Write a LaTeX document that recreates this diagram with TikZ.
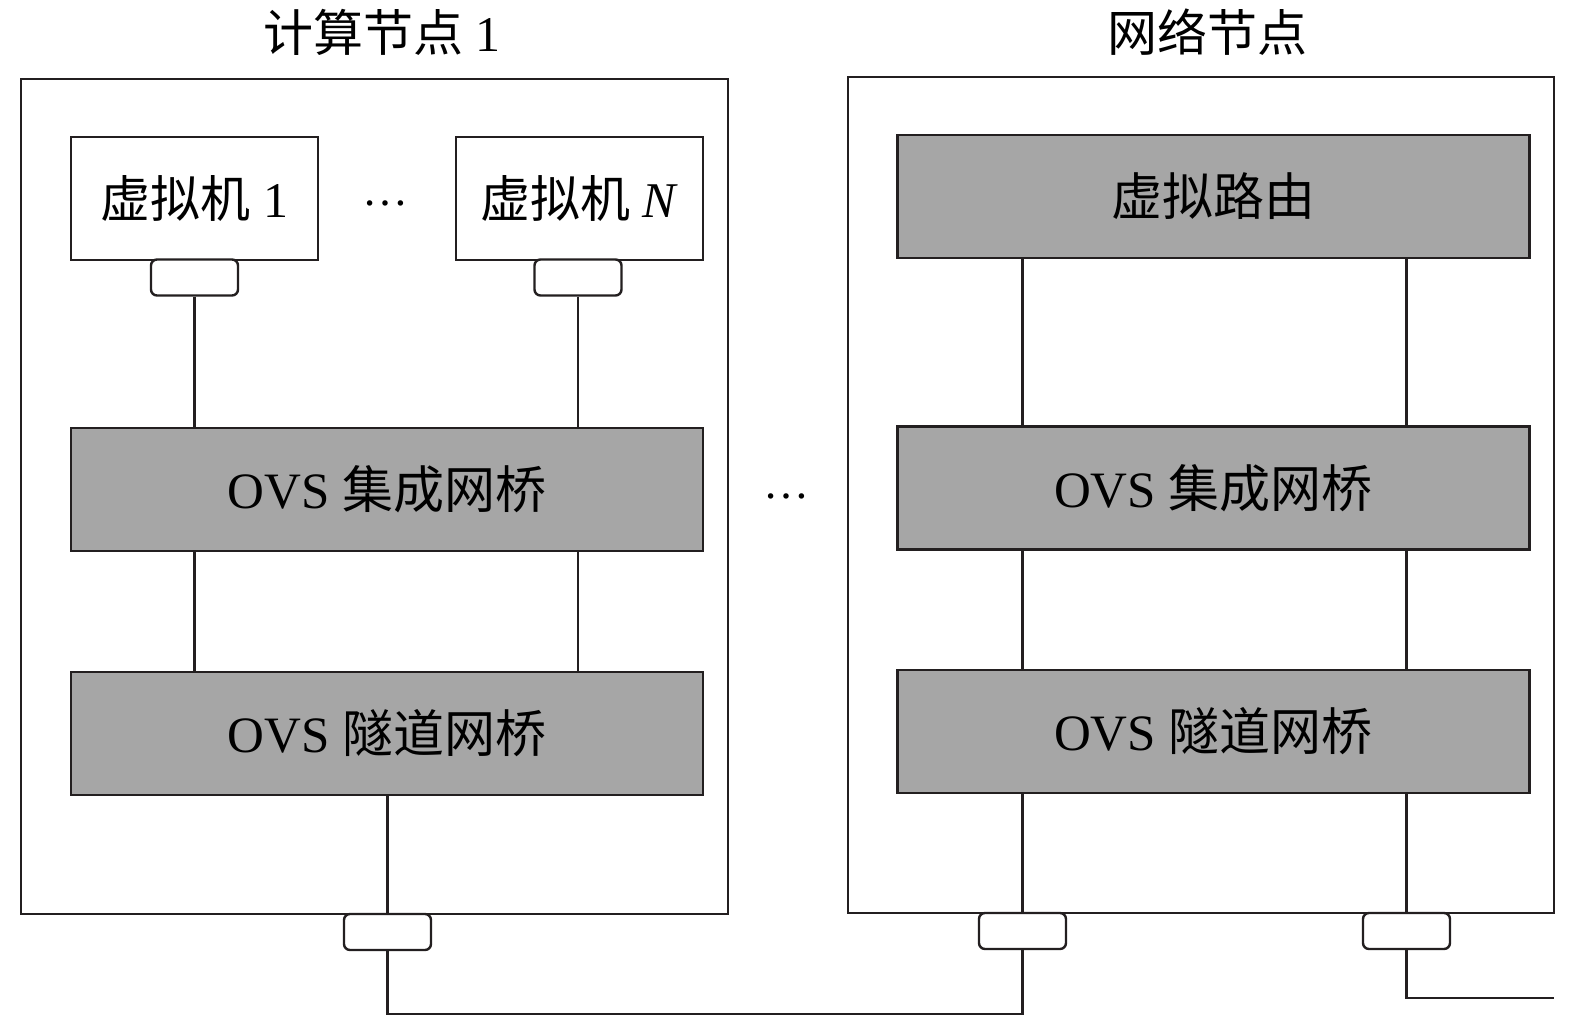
\documentclass[tikz,border=0pt]{standalone}
\usepackage{fontspec}
\setmainfont{Liberation Serif}
\newfontfamily\cjk{Noto Sans CJK SC}
\definecolor{boxgray}{HTML}{A6A6A6}
\definecolor{ink}{HTML}{231F20}
\begin{document}
\begin{tikzpicture}[x=1pt,y=-1pt,
  outerbox/.style={draw=ink,line width=2.6pt,fill=white},
  vmbox/.style={draw=ink,line width=2.6pt,fill=white,inner sep=0pt,minimum width=247pt,minimum height=123pt,font=\fontsize{50}{56}\selectfont},
  bridge/.style={draw=ink,line width=2.6pt,fill=boxgray,inner sep=0pt,minimum width=632pt,minimum height=123pt,font=\fontsize{51}{58}\selectfont},
  port/.style={draw=ink,line width=2.4pt,fill=white,rounded corners=6pt,inner sep=0pt,minimum width=87pt,minimum height=36pt},
  wire/.style={draw=ink,line width=2.2pt},
  title/.style={font=\fontsize{50}{56}\selectfont},
  dots/.style={font=\fontsize{46}{50}\selectfont,anchor=base,inner sep=0pt}]
\useasboundingbox (0,0) rectangle (1575,1022);
% outer boxes
\node[outerbox,inner sep=0pt,minimum width=707pt,minimum height=835pt] (left) at (374.5,496.5) {};
\node[outerbox,inner sep=0pt,minimum width=706pt,minimum height=836pt] (right) at (1201,495) {};
% titles
\node[title] (t1) at (382,32) {{\cjk 计算节点} 1};
\node[title] (t2) at (1207,32) {\cjk 网络节点};
% left node
\node[vmbox] (vm1) at (194.5,198.5) {{\cjk 虚拟机} 1};
\node[vmbox] (vmn) at (579.5,198.5) {{\cjk 虚拟机} \textit{N}};
\node[dots] (d1) at (385,205) {…};
\node[port] (p1) at (194.5,277.5) {};
\node[port] (pn) at (578,277.5) {};
\node[bridge] (ovs1) at (387,489.5) {OVS {\cjk 集成网桥}};
\node[bridge] (tun1) at (387,733.5) {OVS {\cjk 隧道网桥}};
\node[port] (pb1) at (387.5,932) {};
% right node
\node[bridge] (vr) at (1213.5,196.5) {\cjk 虚拟路由};
\node[bridge] (ovs2) at (1213.5,488) {OVS {\cjk 集成网桥}};
\node[bridge] (tun2) at (1213.5,731.5) {OVS {\cjk 隧道网桥}};
\node[port] (pb2) at (1022.5,931) {};
\node[port] (pb3) at (1406.5,931) {};
% middle dots
\node[dots] (d2) at (786,498) {…};
% connectors left
\draw[wire] (p1.south) -- (p1.south |- ovs1.north);
\draw[wire] (pn.south) -- (pn.south |- ovs1.north);
\draw[wire] (p1.south |- ovs1.south) -- (p1.south |- tun1.north);
\draw[wire] (pn.south |- ovs1.south) -- (pn.south |- tun1.north);
\draw[wire] (tun1.south -| pb1.north) -- (pb1.north);
% connectors right
\draw[wire] (pb2.north |- vr.south) -- (pb2.north |- ovs2.north);
\draw[wire] (pb3.north |- vr.south) -- (pb3.north |- ovs2.north);
\draw[wire] (pb2.north |- ovs2.south) -- (pb2.north |- tun2.north);
\draw[wire] (pb3.north |- ovs2.south) -- (pb3.north |- tun2.north);
\draw[wire] (pb2.north |- tun2.south) -- (pb2.north);
\draw[wire] (pb3.north |- tun2.south) -- (pb3.north);
% external links
\coordinate (tail) at (1554,998);
\draw[wire] (pb1.south) -- ++(0,63) -| (pb2.south);
\draw[wire] (pb3.south) |- (tail);
\end{tikzpicture}
\end{document}
